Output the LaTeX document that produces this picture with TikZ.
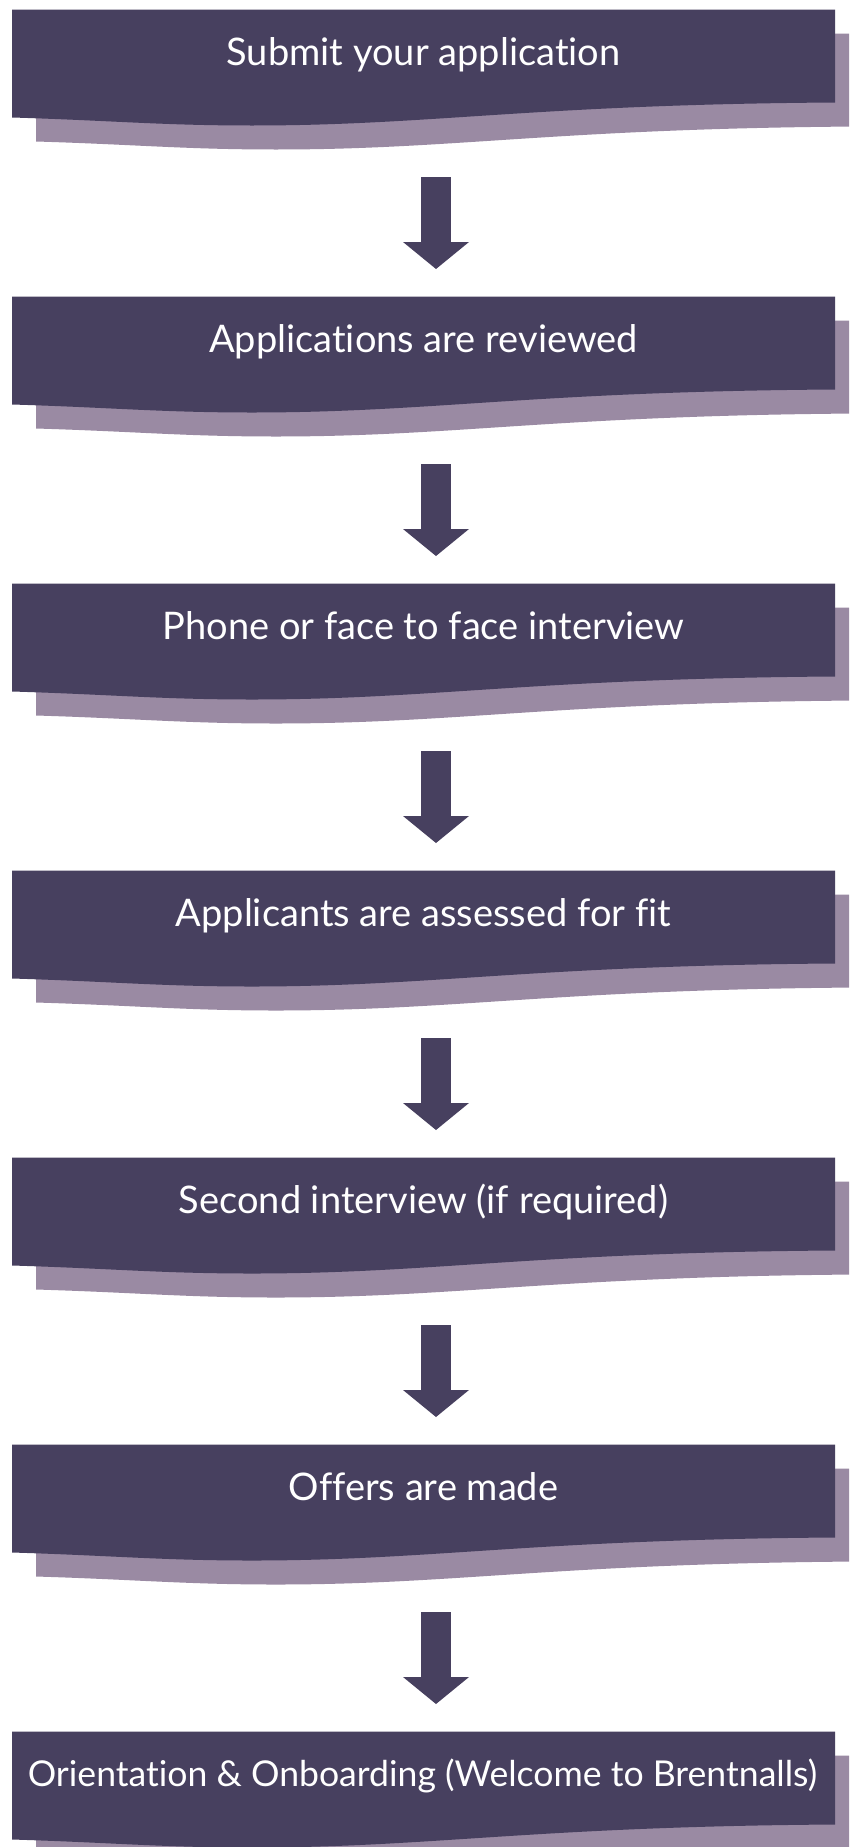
\documentclass[tikz,border=0pt]{standalone}
\usepackage{fontspec}
\setmainfont{Lato}[Ligatures=NoCommon]
\usetikzlibrary{arrows.meta}

% one banner with its shadow, #1 = top edge of the banner
\newcommand{\bannerpath}{(0,0) -- (823,0) -- (823,93)
  .. controls (520,95) and (420,116) .. (240,116)
  .. controls (150,116) and (100,111) .. (0,108) -- cycle}
\newcommand{\stepshape}[1]{%
  \begin{scope}[shift={(36,#1+24)}]
    \path[fill=shadowColor] \bannerpath;
  \end{scope}
  \begin{scope}[shift={(12,#1)}]
    \path[fill=boxColor] \bannerpath;
  \end{scope}}

\begin{document}
\begin{tikzpicture}[x=1pt,y=-1pt,
  steplabel/.style={text=white,anchor=base,inner sep=0pt,font=\fontsize{38}{45}\selectfont},
  flow/.style={draw=boxColor,line width=30pt,-{Triangle[width=66pt,length=27pt,line width=0pt]}}]
\definecolor{boxColor}{RGB}{71,64,95}
\definecolor{shadowColor}{RGB}{154,138,163}
\path[use as bounding box,fill=white] (0,0) rectangle (849,1847);
\begin{scope}
\path[clip] (0,0) rectangle (849,1847);
\foreach \y in {9.5,296.5,583.5,870.5,1157.5,1444.5,1731.5}
  {\stepshape{\y}}
\end{scope}

\node[steplabel] (submit) at (423.5,65) {Submit your application};
\node[steplabel] (review) at (423.5,352) {Applications are reviewed};
\node[steplabel] (phone) at (423.5,639) {Phone or face to face interview};
\node[steplabel] (assess) at (423.5,926) {Applicants are assessed for fit};
\node[steplabel] (second) at (423.5,1213) {Second interview (if required)};
\node[steplabel] (offers) at (423.5,1500) {Offers are made};
% last line is set a bit smaller so it fits the banner
\node[steplabel,font=\fontsize{35.6}{42}\selectfont] (onboard) at (422.5,1786) {Orientation \& Onboarding (Welcome to Brentnalls)};

\foreach \a/\b in {submit/review,review/phone,phone/assess,assess/second,second/offers}
  \draw[flow] ([xshift=12.5pt,yshift=-112pt]\a.base) -- ([xshift=12.5pt,yshift=83pt]\b.base);
\draw[flow] ([xshift=12.5pt,yshift=-112pt]offers.base) -- ([xshift=13.5pt,yshift=82pt]onboard.base);
\end{tikzpicture}
\end{document}
